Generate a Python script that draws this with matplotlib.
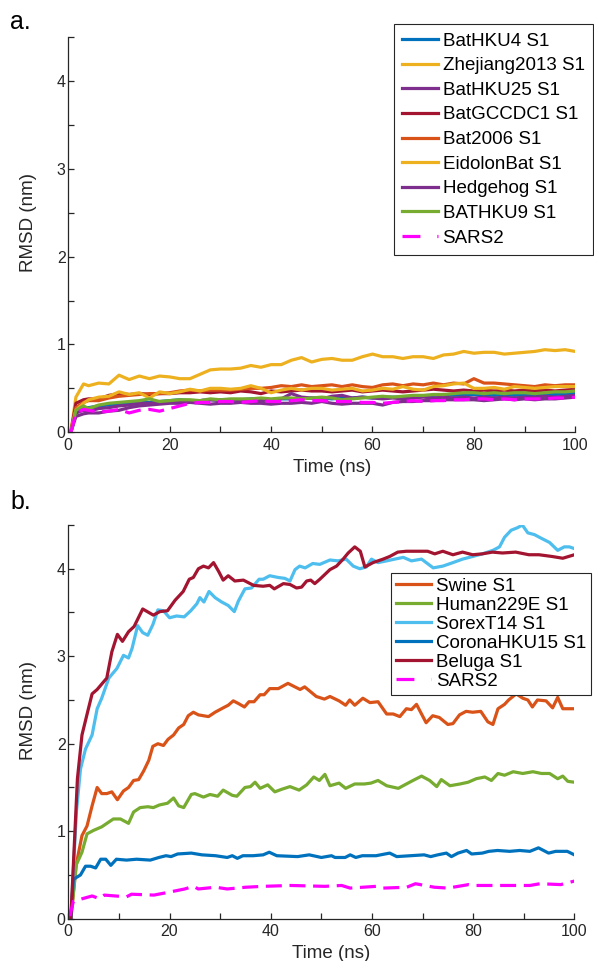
import matplotlib
matplotlib.use('Agg')
import matplotlib.pyplot as plt
from matplotlib.ticker import MultipleLocator
from matplotlib.lines import Line2D

plt.rcParams['font.family'] = ['Liberation Sans', 'DejaVu Sans']

# ---------------- Panel a data ----------------
time_a = [0.5, 1.5, 3, 4, 6, 8, 10, 12, 14, 16, 18, 20, 22, 24, 26, 28, 30, 32, 34, 36,
          38, 40, 42, 44, 46, 48, 50, 52, 54, 56, 58, 60, 62, 64, 66, 68, 70, 72, 74, 76,
          78, 80, 82, 84, 86, 88, 90, 92, 94, 96, 98, 100]

bathku4 = [0, 0.22, 0.28, 0.28, 0.30, 0.31, 0.32, 0.33, 0.34, 0.34, 0.35, 0.36, 0.37, 0.36, 0.36, 0.37,
           0.37, 0.37, 0.37, 0.38, 0.38, 0.37, 0.38, 0.38, 0.38, 0.39, 0.39, 0.38, 0.39, 0.39, 0.40, 0.39,
           0.40, 0.40, 0.40, 0.41, 0.41, 0.42, 0.43, 0.42, 0.43, 0.43, 0.43, 0.42, 0.43, 0.42, 0.43, 0.42,
           0.43, 0.43, 0.44, 0.44]
zhejiang2013 = [0, 0.40, 0.55, 0.53, 0.56, 0.55, 0.65, 0.60, 0.64, 0.61, 0.64, 0.63, 0.61, 0.61, 0.66, 0.71,
                0.72, 0.72, 0.73, 0.76, 0.74, 0.77, 0.77, 0.82, 0.85, 0.80, 0.83, 0.84, 0.82, 0.82, 0.86, 0.89,
                0.86, 0.86, 0.84, 0.86, 0.86, 0.84, 0.88, 0.89, 0.92, 0.90, 0.91, 0.91, 0.89, 0.90, 0.91, 0.92,
                0.94, 0.93, 0.94, 0.92]
bathku25 = [0, 0.18, 0.21, 0.22, 0.22, 0.24, 0.25, 0.28, 0.30, 0.31, 0.32, 0.33, 0.33, 0.34, 0.33, 0.32,
            0.33, 0.33, 0.34, 0.33, 0.33, 0.32, 0.33, 0.33, 0.34, 0.33, 0.35, 0.33, 0.32, 0.33, 0.33, 0.33,
            0.31, 0.34, 0.35, 0.35, 0.36, 0.36, 0.37, 0.37, 0.37, 0.37, 0.36, 0.37, 0.38, 0.37, 0.38, 0.37,
            0.38, 0.38, 0.39, 0.40]
batgccdc1 = [0, 0.33, 0.37, 0.38, 0.38, 0.42, 0.44, 0.43, 0.44, 0.43, 0.44, 0.44, 0.45, 0.45, 0.46, 0.45,
             0.46, 0.45, 0.47, 0.46, 0.44, 0.47, 0.46, 0.47, 0.48, 0.47, 0.47, 0.46, 0.47, 0.48, 0.46, 0.47,
             0.48, 0.47, 0.46, 0.47, 0.48, 0.49, 0.48, 0.47, 0.48, 0.47, 0.48, 0.47, 0.48, 0.47, 0.48, 0.47,
             0.48, 0.47, 0.48, 0.49]
bat2006 = [0, 0.28, 0.34, 0.36, 0.36, 0.39, 0.41, 0.42, 0.43, 0.44, 0.44, 0.45, 0.47, 0.48, 0.47, 0.48,
           0.48, 0.48, 0.49, 0.50, 0.50, 0.51, 0.53, 0.52, 0.54, 0.52, 0.53, 0.54, 0.52, 0.54, 0.52, 0.51,
           0.54, 0.55, 0.53, 0.55, 0.54, 0.56, 0.54, 0.56, 0.55, 0.61, 0.56, 0.56, 0.55, 0.54, 0.53, 0.52,
           0.54, 0.53, 0.54, 0.54]
eidolonbat = [0, 0.25, 0.33, 0.37, 0.40, 0.41, 0.46, 0.43, 0.45, 0.39, 0.46, 0.44, 0.46, 0.49, 0.47, 0.50,
              0.50, 0.49, 0.50, 0.53, 0.50, 0.45, 0.48, 0.50, 0.48, 0.50, 0.50, 0.48, 0.49, 0.50, 0.47, 0.48,
              0.50, 0.49, 0.52, 0.49, 0.48, 0.52, 0.53, 0.55, 0.56, 0.50, 0.50, 0.51, 0.49, 0.52, 0.51, 0.50,
              0.51, 0.52, 0.52, 0.52]
hedgehog = [0, 0.22, 0.25, 0.24, 0.27, 0.28, 0.30, 0.31, 0.33, 0.33, 0.34, 0.35, 0.35, 0.35, 0.36, 0.37,
            0.36, 0.37, 0.36, 0.37, 0.36, 0.37, 0.38, 0.44, 0.40, 0.39, 0.38, 0.41, 0.42, 0.39, 0.40, 0.39,
            0.38, 0.39, 0.38, 0.39, 0.40, 0.39, 0.40, 0.39, 0.40, 0.39, 0.40, 0.39, 0.40, 0.39, 0.40, 0.40,
            0.41, 0.40, 0.41, 0.42]
bathku9 = [0, 0.25, 0.30, 0.27, 0.31, 0.33, 0.34, 0.35, 0.36, 0.38, 0.35, 0.36, 0.37, 0.37, 0.36, 0.38,
           0.37, 0.38, 0.38, 0.38, 0.39, 0.38, 0.39, 0.39, 0.38, 0.39, 0.40, 0.39, 0.37, 0.38, 0.39, 0.40,
           0.41, 0.40, 0.41, 0.42, 0.42, 0.43, 0.43, 0.44, 0.45, 0.45, 0.44, 0.45, 0.44, 0.45, 0.45, 0.44,
           0.45, 0.46, 0.46, 0.47]
sars2_a = [0, 0.22, 0.26, 0.25, 0.23, 0.24, 0.26, 0.22, 0.25, 0.26, 0.24, 0.27, 0.30, 0.33, 0.34, 0.34,
           0.35, 0.35, 0.34, 0.35, 0.36, 0.35, 0.35, 0.36, 0.37, 0.36, 0.36, 0.35, 0.35, 0.35, 0.34, 0.34,
           0.33, 0.34, 0.35, 0.36, 0.35, 0.36, 0.36, 0.37, 0.37, 0.38, 0.38, 0.37, 0.38, 0.37, 0.38, 0.38,
           0.38, 0.39, 0.39, 0.40]

labels_a = ['BatHKU4 S1', 'Zhejiang2013 S1', 'BatHKU25 S1', 'BatGCCDC1 S1', 'Bat2006 S1',
            'EidolonBat S1', 'Hedgehog S1', 'BATHKU9 S1', 'SARS2']

# ---------------- Panel b data ----------------
swine_t = [0.5, 1.5, 2.7, 3.7, 4.7, 5.7, 6.6, 7.6, 8.6, 9.7, 10.9, 11.9, 12.9, 13.9, 14.9, 15.9, 16.7,
           17.7, 18.8, 19.7, 20.8, 21.8, 22.8, 23.7, 24.7, 25.7, 27.7, 29.0, 30.6, 31.6, 32.6, 33.6,
           34.8, 35.7, 36.7, 37.9, 38.7, 39.8, 41.5, 43.4, 45.8, 46.7, 49.0, 50.6, 51.7, 53.5, 54.8,
           55.6, 56.6, 58.2, 59.6, 61.2, 62.9, 64.2, 65.5, 66.8, 67.8, 68.8, 70.7, 72.0, 73.3, 75.0,
           76.0, 77.3, 78.6, 79.9, 81.5, 82.9, 83.9, 84.9, 86.2, 87.0, 88.5, 89.8, 90.8, 91.7, 92.7,
           94.4, 95.7, 96.7, 97.7, 100]
swine_v = [0, 0.60, 0.95, 1.06, 1.29, 1.50, 1.43, 1.43, 1.45, 1.36, 1.46, 1.50, 1.58, 1.59, 1.69, 1.81,
           1.97, 2.00, 1.98, 2.05, 2.10, 2.18, 2.22, 2.32, 2.36, 2.33, 2.31, 2.36, 2.41, 2.44, 2.49, 2.46,
           2.42, 2.48, 2.48, 2.56, 2.56, 2.63, 2.63, 2.69, 2.62, 2.65, 2.54, 2.51, 2.54, 2.49, 2.44, 2.50,
           2.44, 2.52, 2.47, 2.48, 2.34, 2.34, 2.31, 2.40, 2.39, 2.45, 2.24, 2.32, 2.30, 2.22, 2.23, 2.33,
           2.37, 2.36, 2.37, 2.25, 2.22, 2.40, 2.45, 2.50, 2.57, 2.52, 2.50, 2.42, 2.50, 2.49, 2.41, 2.53,
           2.40, 2.40]

human_t = [0.5, 1.6, 2.7, 3.7, 5.0, 6.6, 8.9, 10.3, 11.9, 12.9, 14.2, 15.7, 16.8, 18.0, 19.6, 20.8,
           21.8, 22.8, 24.3, 25.0, 26.7, 28.0, 29.5, 30.6, 32.4, 33.3, 34.9, 36.0, 36.9, 37.9, 39.4,
           40.8, 42.2, 43.8, 45.6, 47.1, 48.5, 49.6, 50.7, 51.7, 53.5, 54.8, 56.6, 58.5, 59.8, 61.2,
           62.9, 65.2, 66.8, 68.1, 69.8, 71.4, 72.8, 73.7, 75.4, 77.4, 79.0, 80.6, 82.3, 83.6, 84.9,
           86.2, 87.9, 89.8, 91.8, 93.5, 95.1, 96.7, 97.7, 98.7, 100]
human_v = [0, 0.62, 0.76, 0.97, 1.01, 1.05, 1.14, 1.14, 1.09, 1.22, 1.27, 1.28, 1.27, 1.30, 1.32, 1.38,
           1.29, 1.27, 1.42, 1.43, 1.39, 1.42, 1.40, 1.47, 1.41, 1.40, 1.50, 1.51, 1.56, 1.49, 1.53,
           1.45, 1.48, 1.51, 1.47, 1.53, 1.62, 1.58, 1.65, 1.52, 1.55, 1.49, 1.54, 1.54, 1.55, 1.58,
           1.52, 1.49, 1.54, 1.58, 1.63, 1.58, 1.51, 1.59, 1.52, 1.54, 1.56, 1.60, 1.62, 1.58, 1.66,
           1.64, 1.68, 1.66, 1.68, 1.66, 1.66, 1.60, 1.63, 1.57, 1.56]

sorex_t = [0.5, 1.6, 2.4, 3.4, 4.7, 5.7, 6.6, 8.0, 9.6, 10.9, 11.9, 12.6, 13.7, 14.7, 15.7, 16.7, 17.7,
           18.8, 20.0, 21.4, 22.9, 24.2, 25.4, 26.0, 26.8, 27.8, 29.0, 30.3, 31.6, 32.8, 33.6, 34.9,
           36.2, 37.7, 38.5, 39.8, 41.5, 42.8, 43.8, 44.8, 45.7, 46.8, 48.3, 49.7, 51.7, 53.3, 54.9,
           56.3, 57.6, 58.9, 59.9, 61.2, 62.9, 64.5, 66.2, 67.8, 69.8, 72.1, 74.0, 76.0, 77.9, 79.9,
           81.8, 83.9, 85.2, 86.2, 87.5, 88.8, 89.7, 90.8, 92.1, 93.4, 95.1, 96.7, 98.0, 99.0, 100]
sorex_v = [0, 1.22, 1.71, 1.94, 2.10, 2.40, 2.52, 2.75, 2.86, 3.01, 2.98, 3.09, 3.35, 3.27, 3.24, 3.36,
           3.53, 3.52, 3.44, 3.46, 3.45, 3.52, 3.60, 3.67, 3.62, 3.74, 3.67, 3.62, 3.58, 3.51, 3.63, 3.77,
           3.78, 3.88, 3.88, 3.92, 3.90, 3.89, 3.86, 3.99, 4.03, 4.01, 4.06, 4.05, 4.10, 4.09, 4.11, 4.03,
           4.00, 4.02, 4.11, 4.07, 4.09, 4.11, 4.13, 4.09, 4.11, 4.01, 4.03, 4.07, 4.11, 4.14, 4.17, 4.21,
           4.25, 4.36, 4.44, 4.47, 4.50, 4.41, 4.39, 4.35, 4.30, 4.21, 4.25, 4.25, 4.23]

hku15_t = [0.5, 1.0, 2.4, 3.4, 4.4, 5.4, 6.4, 7.4, 8.4, 9.5, 11.5, 13.5, 16.2, 17.9, 19.3, 20.3, 21.6,
           24.3, 26.4, 29.1, 31.4, 32.4, 33.4, 34.5, 36.5, 38.5, 39.7, 41.2, 45.3, 47.6, 50.0, 52.0,
           52.7, 54.7, 55.7, 56.8, 58.1, 60.8, 63.5, 64.9, 67.6, 70.3, 71.6, 73.0, 74.7, 75.7, 77.0,
           78.7, 79.7, 81.8, 83.1, 84.8, 87.2, 89.2, 91.2, 92.9, 94.9, 96.3, 98.6, 100]
hku15_v = [0, 0.45, 0.50, 0.60, 0.60, 0.58, 0.68, 0.68, 0.61, 0.68, 0.67, 0.68, 0.67, 0.70, 0.72, 0.71,
           0.74, 0.75, 0.73, 0.72, 0.70, 0.72, 0.69, 0.72, 0.72, 0.73, 0.76, 0.72, 0.71, 0.73, 0.70, 0.72,
           0.70, 0.70, 0.73, 0.70, 0.72, 0.72, 0.75, 0.71, 0.72, 0.73, 0.71, 0.73, 0.75, 0.71, 0.75, 0.78,
           0.74, 0.75, 0.77, 0.78, 0.77, 0.78, 0.77, 0.81, 0.75, 0.77, 0.77, 0.73]

beluga_t = [0.5, 1.8, 2.7, 3.8, 4.7, 5.7, 7.6, 8.6, 9.7, 10.7, 11.9, 13.0, 14.7, 16.8, 18.1, 19.6, 21.1,
            22.7, 23.9, 24.7, 25.7, 26.7, 27.7, 28.7, 29.7, 30.6, 31.6, 32.9, 34.6, 36.6, 38.5, 39.8,
            40.7, 42.5, 43.8, 45.1, 46.1, 47.1, 47.9, 48.7, 49.7, 51.7, 53.0, 54.3, 55.3, 56.6, 57.7,
            58.6, 60.2, 62.2, 63.5, 65.1, 66.8, 69.4, 71.0, 72.4, 74.0, 76.0, 77.9, 79.9, 81.8, 83.8,
            85.8, 88.4, 91.0, 93.0, 95.6, 97.7, 100]
beluga_v = [0, 1.60, 2.10, 2.36, 2.57, 2.62, 2.75, 3.05, 3.25, 3.17, 3.28, 3.34, 3.54, 3.47, 3.51, 3.52,
            3.64, 3.74, 3.88, 3.90, 4.00, 4.03, 4.01, 4.07, 3.97, 3.87, 3.92, 3.86, 3.87, 3.81, 3.80, 3.81,
            3.77, 3.83, 3.82, 3.78, 3.79, 3.86, 3.87, 3.83, 3.88, 3.99, 4.03, 4.11, 4.18, 4.25, 4.20, 4.02,
            4.07, 4.11, 4.14, 4.19, 4.20, 4.20, 4.20, 4.17, 4.20, 4.16, 4.19, 4.16, 4.17, 4.19, 4.18, 4.19,
            4.16, 4.16, 4.14, 4.12, 4.16]

sars2_b_t = [0.3, 1.0, 4.7, 6.1, 7.1, 11.5, 12.5, 16.9, 19.6, 23.0, 24.7, 25.7, 29.1, 31.4, 35.1, 38.5,
             43.9, 50.7, 54.0, 55.7, 60.8, 62.2, 66.9, 68.6, 72.3, 75.0, 79.1, 80.4, 85.8, 91.2, 93.2,
             97.3, 99.3, 100]
sars2_b_v = [0.03, 0.20, 0.26, 0.23, 0.27, 0.25, 0.28, 0.27, 0.30, 0.34, 0.37, 0.34, 0.36, 0.34, 0.36,
             0.37, 0.38, 0.37, 0.38, 0.35, 0.37, 0.35, 0.36, 0.40, 0.36, 0.35, 0.39, 0.38, 0.38, 0.38,
             0.40, 0.39, 0.42, 0.43]

labels_b = ['Swine S1', 'Human229E S1', 'SorexT14 S1', 'CoronaHKU15 S1', 'Beluga S1', 'SARS2']

# ---------------- Styling ----------------
C_BLUE = '#0072BD'; C_ORANGE = '#D95319'; C_YELLOW = '#EDB120'; C_PURPLE = '#7E2F8E'
C_GREEN = '#77AC30'; C_CYAN = '#4DBEEE'; C_RED = '#A2142F'; C_MAG = '#FF00FF'
AX_COL = '#262626'
LW = 2.3
DASH = (5.0, 2.4)

fig = plt.figure(figsize=(5.94, 9.61), dpi=100)
axa = fig.add_axes([0.115, 0.5502, 0.8535, 0.4113])
axb = fig.add_axes([0.115, 0.0440, 0.8520, 0.4097])


def style(ax):
    ax.set_xlim(0, 100)
    ax.set_ylim(0, 4.5)
    ax.spines['top'].set_visible(False)
    ax.spines['right'].set_visible(False)
    for s in ('left', 'bottom'):
        ax.spines[s].set_color(AX_COL)
        ax.spines[s].set_linewidth(0.9)
    ax.xaxis.set_major_locator(MultipleLocator(20))
    ax.xaxis.set_minor_locator(MultipleLocator(10))
    ax.yaxis.set_major_locator(MultipleLocator(1))
    ax.yaxis.set_minor_locator(MultipleLocator(0.5))
    ax.tick_params(which='both', direction='in', length=4.5, width=0.9, color=AX_COL,
                   labelcolor=AX_COL, labelsize=11.5)
    ax.tick_params(axis='x', which='both', pad=4)
    ax.tick_params(axis='y', which='both', pad=2)
    ax.set_xlabel('Time (ns)', fontsize=13.5, color=AX_COL)
    ax.set_ylabel('RMSD (nm)', fontsize=13.5, color=AX_COL)
    ax.xaxis.set_label_coords(0.52, -0.067)
    ax.yaxis.set_label_coords(-0.062, 0.53)


# Panel a
series_a = [bathku4, zhejiang2013, bathku25, batgccdc1, bat2006, eidolonbat, hedgehog, bathku9]
colors_a = [C_BLUE, C_YELLOW, C_PURPLE, C_RED, C_ORANGE, C_YELLOW, C_PURPLE, C_GREEN]
handles_a = []
for vals, col in zip(series_a, colors_a):
    ln, = axa.plot(time_a, vals, color=col, lw=LW, solid_joinstyle='round')
    handles_a.append(ln)
axa.plot(time_a, sars2_a, color=C_MAG, lw=LW, dashes=DASH)
handles_a.append(Line2D([], [], color=C_MAG, lw=LW, dashes=(5.6, 5.3, 1.0, 8)))
style(axa)

# Panel b
series_b = [(swine_t, swine_v, C_ORANGE), (human_t, human_v, C_GREEN), (sorex_t, sorex_v, C_CYAN),
            (hku15_t, hku15_v, C_BLUE), (beluga_t, beluga_v, C_RED)]
handles_b = []
for tt, vv, col in series_b:
    ln, = axb.plot(tt, vv, color=col, lw=LW, solid_joinstyle='round')
    handles_b.append(ln)
axb.plot(sars2_b_t, sars2_b_v, color=C_MAG, lw=LW, dashes=DASH)
handles_b.append(Line2D([], [], color=C_MAG, lw=LW, dashes=(5.6, 5.3, 1.0, 8)))
style(axb)

leg_kw = dict(loc='upper right', bbox_transform=fig.transFigure, fontsize=13.5, frameon=True,
              fancybox=False, edgecolor=AX_COL, framealpha=1, borderaxespad=0,
              handlelength=1.87, handletextpad=0.27)
lega = axa.legend(handles_a, labels_a, bbox_to_anchor=(593 / 594, 1 - 24 / 961),
                  labelspacing=0.40, borderpad=0.45, **leg_kw)
lega.get_frame().set_linewidth(0.8)
legb = axb.legend(handles_b, labels_b, bbox_to_anchor=(591 / 594, 1 - 573 / 961),
                  labelspacing=0.10, borderpad=0.25, **leg_kw)
legb.get_frame().set_linewidth(0.8)

fig.text(10 / 594, 1 - 29 / 961, 'a.', fontsize=18, color='black', ha='left', va='baseline')
fig.text(10 / 594, 1 - 509 / 961, 'b.', fontsize=18, color='black', ha='left', va='baseline')

fig.savefig('out.png', dpi=100)
